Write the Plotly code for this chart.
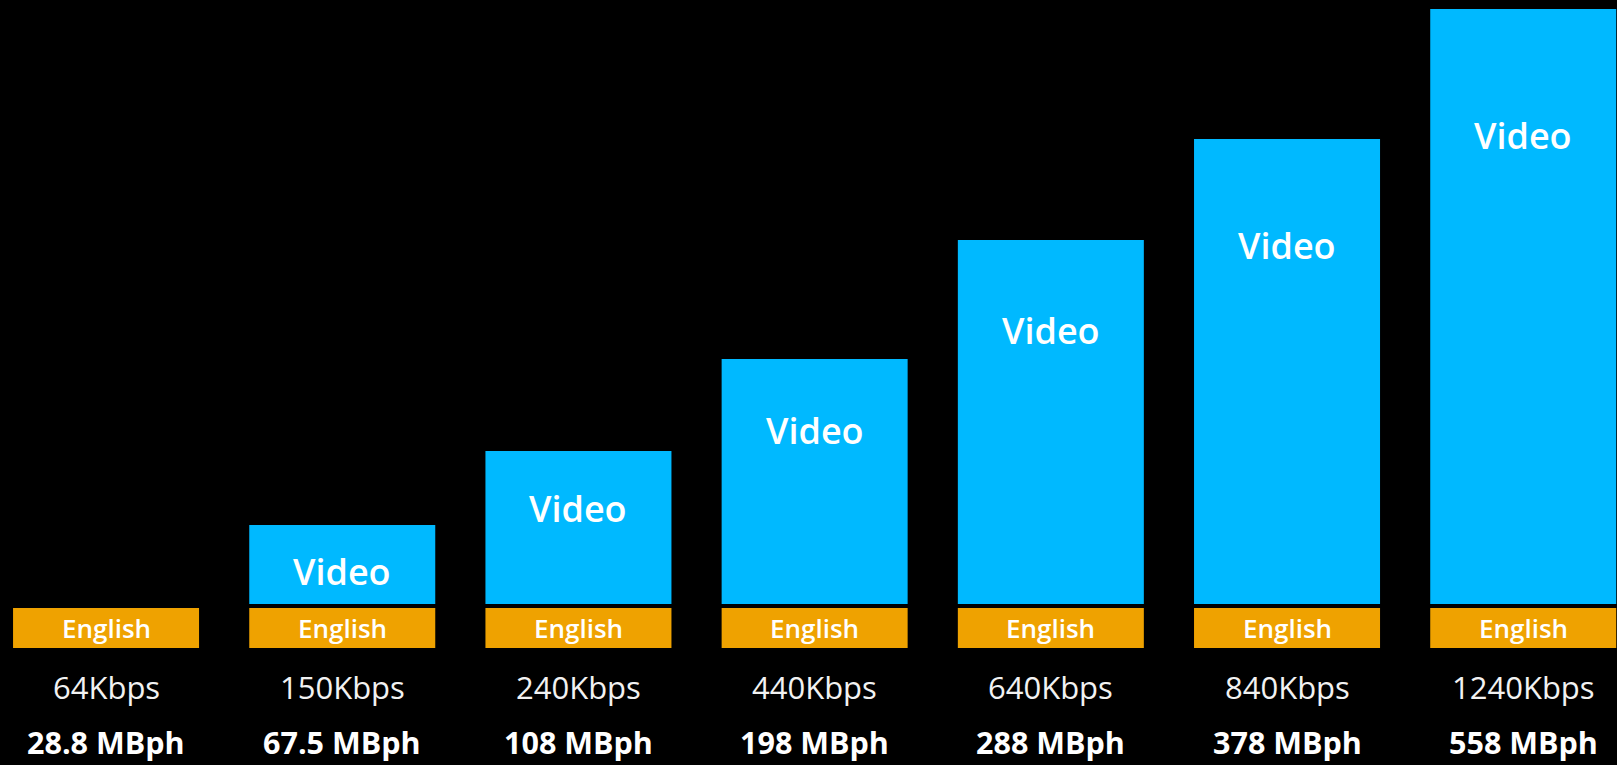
import plotly.graph_objects as go

# Bitrate ladder: audio-only tier plus six video tiers
bitrates = ["64Kbps", "150Kbps", "240Kbps", "440Kbps", "640Kbps", "840Kbps", "1240Kbps"]
per_hour = ["28.8 MBph", "67.5 MBph", "108 MBph", "198 MBph", "288 MBph", "378 MBph", "558 MBph"]
audio_label = "English"
video_label = "Video"
# relative block sizes drawn for each tier
audio_size = [40, 40, 40, 40, 40, 40, 40]
video_size = [None, 79, 153, 245, 364, 465, 595]

BLUE = "#00B9FF"
ORANGE = "#EFA200"
FONT = "Open Sans"
GAP = 4

xs = list(range(len(bitrates)))

fig = go.Figure()
fig.add_trace(go.Bar(
    x=xs, y=audio_size, base=0, width=0.7875,
    marker=dict(color=ORANGE, line=dict(width=0)),
    hoverinfo="skip", showlegend=False,
))
fig.add_trace(go.Bar(
    x=xs, y=video_size, base=[a + GAP for a in audio_size], width=0.7875,
    marker=dict(color=BLUE, line=dict(width=0)),
    hoverinfo="skip", showlegend=False,
))

annotations = []
for i, x in enumerate(xs):
    annotations.append(dict(
        x=x, y=audio_size[i] / 2, text=audio_label, showarrow=False,
        xanchor="center", yanchor="middle",
        font=dict(family=FONT, size=26, color="white", weight=600),
    ))
    annotations.append(dict(
        x=x, y=-39, text=bitrates[i], showarrow=False,
        xanchor="center", yanchor="middle",
        font=dict(family=FONT, size=31, color="#F2F2F2"),
    ))
    annotations.append(dict(
        x=x, y=-94, text=per_hour[i], showarrow=False,
        xanchor="center", yanchor="middle",
        font=dict(family=FONT, size=30.5, color="white", weight=700),
    ))
    h = video_size[i]
    if h:
        top = audio_size[i] + GAP + h
        annotations.append(dict(
            x=x, y=top - (34 + 0.155 * h), text=video_label, showarrow=False,
            xanchor="center", yanchor="middle",
            font=dict(family=FONT, size=36, color="white", weight=600),
        ))

fig.update_layout(
    width=1617, height=765,
    margin=dict(l=0, r=0, t=0, b=0),
    paper_bgcolor="black", plot_bgcolor="black",
    barmode="overlay",
    xaxis=dict(range=[-0.449, 6.397], visible=False, fixedrange=True),
    yaxis=dict(range=[-117, 648], visible=False, fixedrange=True),
    annotations=annotations,
)

fig.write_html("out.html")
